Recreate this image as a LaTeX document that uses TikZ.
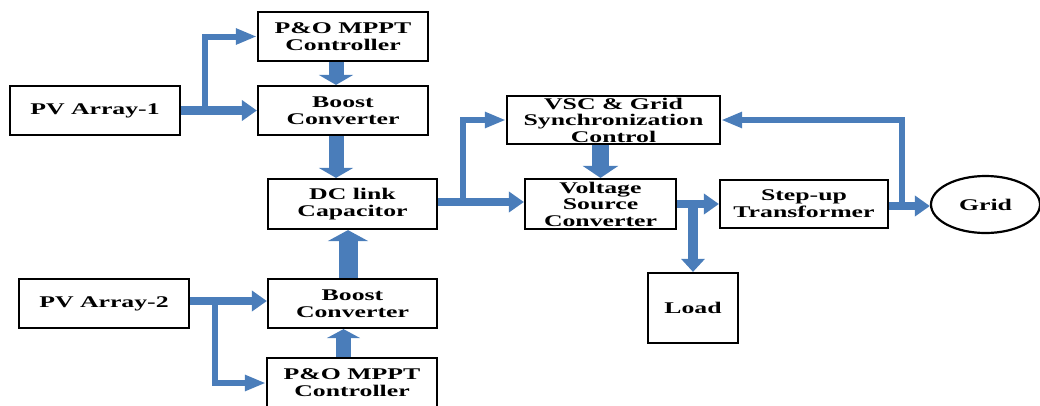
\documentclass[tikz,border=0pt]{standalone}
\usepackage{fontspec}
\newfontfamily\lblfont{Liberation Serif}[FakeStretch=1.58]
\usetikzlibrary{arrows.meta,shapes.geometric}
\definecolor{ablue}{HTML}{4A7DBA}
\tikzset{
  box/.style={draw=black, line width=2.2pt, rectangle, inner sep=0pt, align=center,
    font=\lblfont\bfseries\fontsize{16.3}{17}\selectfont},
  mainarr/.style={draw=ablue, line width=8.5pt, -{Triangle[width=20pt,length=15pt]}},
  brarr/.style={draw=ablue, line width=6pt, miter limit=10, -{Triangle[width=15pt,length=21pt]}},
  bigarr/.style={draw=ablue, line width=15pt, -{Triangle[width=34pt,length=10pt]}},
}
\begin{document}
\begin{tikzpicture}[x=1pt,y=-1pt]
\useasboundingbox (0,0) rectangle (1040,405);
% boxes
\node[box, minimum width=170pt, minimum height=49pt] (pv1) at (95,110.5) {PV Array-1};
\node[box, minimum width=170pt, minimum height=49pt] (mppt1) at (343,36.5) {P\&O MPPT\\Controller};
\node[box, minimum width=170pt, minimum height=49pt] (boost1) at (343,110.5) {Boost\\Converter};
\node[box, minimum width=169pt, minimum height=50pt] (dc) at (352.5,204) {DC link\\Capacitor};
\node[box, minimum width=169pt, minimum height=49pt] (boost2) at (352.5,303.5) {Boost\\Converter};
\node[box, minimum width=170pt, minimum height=50pt] (mppt2) at (352,383) {P\&O MPPT\\Controller};
\node[box, minimum width=170pt, minimum height=49pt] (pv2) at (104,303.5) {PV Array-2};
\node[box, minimum width=213pt, minimum height=48pt] (vsc) at (613.5,120) {VSC \& Grid\\[-0.5pt]Synchronization\\[-0.5pt]Control};
\node[box, minimum width=151pt, minimum height=50pt] (vsconv) at (600.5,204) {Voltage\\[-0.5pt]Source\\[-0.5pt]Converter};
\node[box, minimum width=168pt, minimum height=48pt] (step) at (804,204) {Step-up\\Transformer};
\node[box, ellipse, minimum width=109pt, minimum height=57pt] (grid) at (985.5,204.5) {Grid};
\node[box, minimum width=90pt, minimum height=70pt] (load) at (693,308) {Load};
% junction coordinates
\coordinate (j1) at (205,110.5);
\coordinate (j2) at (215,301);
\coordinate (j3) at (463,202);
\coordinate (j4) at (693,204);
\coordinate (j5) at (902,206);
% branch lines
\draw[brarr] (j1) |- (mppt1.west);
\draw[brarr] (j2) |- (mppt2.west);
\draw[brarr] (j3) |- (vsc.west);
\draw[brarr] (j5) |- (vsc.east);
\draw[mainarr, line width=10pt, -{Triangle[width=23pt,length=13pt]}] (j4) -- (load.north);
% main arrows
\draw[mainarr] (pv1.east) -- (boost1.west);
\draw[mainarr] ([yshift=2.5pt]pv2.east) -- ([yshift=2.5pt]pv2.east -| boost2.west);
\draw[mainarr] ([yshift=2pt]dc.east) -- ([yshift=2pt]dc.east -| vsconv.west);
\draw[mainarr] (vsconv.east) -- (step.west);
\draw[mainarr] ([yshift=-2pt]step.east) -- ([yshift=-2pt]step.east -| grid.west);
% big vertical arrows
\draw[bigarr] ([xshift=-7pt]mppt1.south) -- ([xshift=-7pt]boost1.north);
\draw[bigarr] ([xshift=-7pt]boost1.south) -- ([xshift=-7pt]boost1.south |- dc.north);
\draw[bigarr, line width=19pt, -{Triangle[width=40pt,length=11pt]}] ([xshift=-4.5pt]boost2.north) -- ([xshift=-4.5pt]boost2.north |- dc.south);
\draw[bigarr, -{Triangle[width=33pt,length=9pt]}] ([xshift=-8.5pt]mppt2.north) -- ([xshift=-8.5pt]mppt2.north |- boost2.south);
\draw[bigarr, line width=17pt, -{Triangle[width=35pt,length=12pt]}] (vsconv.north |- vsc.south) -- (vsconv.north);
\end{tikzpicture}
\end{document}
